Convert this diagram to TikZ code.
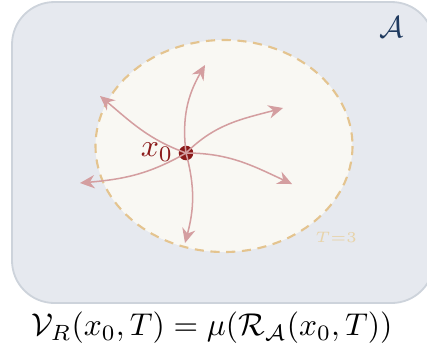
\documentclass[tikz,border=0pt]{standalone}
\usepackage{amsmath}
\usetikzlibrary{arrows.meta}
\definecolor{regionfill}{RGB}{230, 233, 239}
\definecolor{regionedge}{RGB}{205, 211, 219}
\definecolor{reachfill}{RGB}{249, 248, 243}
\definecolor{reachedge}{RGB}{228, 196, 143}
\definecolor{pathred}{RGB}{212, 158, 160}
\definecolor{startred}{RGB}{139, 26, 26}
\definecolor{setblue}{RGB}{31, 58, 95}
\definecolor{horizon}{RGB}{232, 211, 168}

\begin{document}
\begin{tikzpicture}[x=0.33pt, y=-0.33pt,
		traj/.style={draw=pathred, line width=0.5pt, -{Stealth[length=4.8pt, width=4.4pt]}},
		startpt/.style={circle, fill=startred, inner sep=0pt, minimum size=4.8pt}]
		
		\useasboundingbox (0,0) rectangle (427,351);
		
		% --- ZUSTANDSRAUM ---
		\draw[fill=regionfill, draw=regionedge, line width=0.6pt, rounded corners=14pt] (12,2) rectangle (434,303);
		\node[color=setblue] (A) at (392,27) {$\mathcal{A}$};
		
		% --- ERREICHBARE MENGE ---
		\draw[fill=reachfill, draw=reachedge, line width=0.7pt, dash pattern=on 3pt off 2.2pt] (224,146) ellipse (128.5 and 106);
		\node[color=horizon, font=\tiny] (T) at (336,237) {$T{=}3$};
		
		% --- STARTPUNKT & TRAJEKTORIEN ---
		\node[startpt] (x0) at (186,153) {};
		\node[color=startred, scale=1.05] (lbl) at (157,152) {$x_0$};
		\coordinate (e1) at (205,65);
		\coordinate (e2) at (283,108);
		\coordinate (e3) at (292,184);
		\coordinate (e4) at (185,243);
		\coordinate (e5) at (80,183);
		\coordinate (e6) at (100,96);
		\foreach \e/\o/\i in {e1/97/240, e2/45/195, e3/0/155, e4/-75/75, e5/210/5, e6/160/-40}
			\draw[traj] (x0.center) to[out=\o, in=\i] (\e);
		
		% --- FORMEL ---
		\node[scale=1.04] (vol) at (212,328) {$\mathcal{V}_R(x_0,T)=\mu(\mathcal{R}_{\mathcal{A}}(x_0,T))$};
		
	\end{tikzpicture}
\end{document}
